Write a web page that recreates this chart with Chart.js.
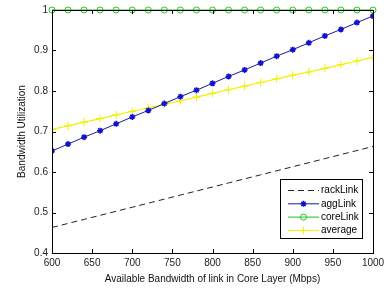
<!DOCTYPE html>
<html>
<head>
<meta charset="utf-8">
<script src="https://cdn.jsdelivr.net/npm/chart.js@4/dist/chart.umd.min.js"></script>
<style>
  html, body { margin: 0; padding: 0; background: #fff; }
  #wrap { width: 389px; height: 288px; }
</style>
</head>
<body>
<div id="wrap"><canvas id="bwChart"></canvas></div>
<script>
// values
const bandwidth = [600, 620, 640, 660, 680, 700, 720, 740, 760, 780, 800,
                   820, 840, 860, 880, 900, 920, 940, 960, 980, 1000];
const rackLink = [0.463, 0.473, 0.483, 0.493, 0.503, 0.513, 0.523, 0.533, 0.543, 0.553, 0.563,
                  0.573, 0.583, 0.593, 0.603, 0.613, 0.623, 0.633, 0.643, 0.653, 0.663];
const aggLink = [0.652, 0.669, 0.686, 0.702, 0.719, 0.736, 0.752, 0.769, 0.786, 0.802, 0.819,
                 0.836, 0.852, 0.869, 0.886, 0.902, 0.919, 0.936, 0.952, 0.969, 0.985];
const coreLink = [1, 1, 1, 1, 1, 1, 1, 1, 1, 1, 1,
                  1, 1, 1, 1, 1, 1, 1, 1, 1, 1];
const average = [0.705, 0.714, 0.723, 0.732, 0.741, 0.750, 0.758, 0.767, 0.776, 0.785, 0.794,
                 0.803, 0.812, 0.821, 0.830, 0.839, 0.847, 0.856, 0.865, 0.874, 0.883];
const xTicks = [600, 650, 700, 750, 800, 850, 900, 950, 1000];
const yTicks = [0.4, 0.5, 0.6, 0.7, 0.8, 0.9, 1];

const pts = (ys) => ys.map((y, i) => ({ x: bandwidth[i], y: y }));
const FONT = 'Arial, "Liberation Sans", sans-serif';

// matlab style box with inward ticks
const boxPlugin = {
  id: 'box',
  afterDatasetsDraw(chart) {
    const { ctx, chartArea: a, scales } = chart;
    ctx.save();
    ctx.strokeStyle = '#000';
    ctx.lineWidth = 1;
    ctx.strokeRect(Math.round(a.left) + 0.5, Math.round(a.top) + 0.5,
                   Math.round(a.right - a.left), Math.round(a.bottom - a.top));
    ctx.beginPath();
    xTicks.forEach(v => {
      const x = Math.round(scales.x.getPixelForValue(v)) + 0.5;
      ctx.moveTo(x, a.bottom); ctx.lineTo(x, a.bottom - 4);
      ctx.moveTo(x, a.top); ctx.lineTo(x, a.top + 4);
    });
    yTicks.forEach(v => {
      const y = Math.round(scales.y.getPixelForValue(v)) + 0.5;
      ctx.moveTo(a.left, y); ctx.lineTo(a.left + 4, y);
      ctx.moveTo(a.right, y); ctx.lineTo(a.right - 4, y);
    });
    ctx.stroke();
    ctx.restore();
  }
};

// legend inside the axes, lower right
const legendPlugin = {
  id: 'matLegend',
  afterDraw(chart) {
    const { ctx } = chart;
    const bx = 280, by = 179, bw = 82, bh = 59;
    ctx.save();
    ctx.fillStyle = '#fff';
    ctx.fillRect(bx, by, bw, bh);
    ctx.strokeStyle = '#000';
    ctx.lineWidth = 1;
    ctx.strokeRect(bx + 0.5, by + 0.5, bw, bh);
    ctx.font = '10px ' + FONT;
    ctx.textBaseline = 'middle';
    chart.data.datasets.forEach((ds, i) => {
      const y = by + 11.5 + i * 13.3;
      ctx.strokeStyle = ds.borderColor;
      ctx.lineWidth = 1;
      ctx.setLineDash(ds.borderDash || []);
      ctx.beginPath();
      ctx.moveTo(288, y); ctx.lineTo(319, y);
      ctx.stroke();
      ctx.setLineDash([]);
      if (ds.pointRadius > 0) {
        ctx.strokeStyle = ds.pointBorderColor;
        ctx.fillStyle = ds.pointBackgroundColor;
        ctx.lineWidth = ds.pointBorderWidth;
        Chart.helpers.drawPoint(ctx, {
          pointStyle: ds.pointStyle,
          radius: ds.pointRadius,
          borderWidth: ds.pointBorderWidth
        }, 303.5, y);
      }
      ctx.fillStyle = '#000';
      ctx.fillText(ds.label, 321, y);
    });
    ctx.restore();
  }
};

new Chart(document.getElementById('bwChart'), {
  type: 'line',
  data: {
    datasets: [
      {
        label: 'rackLink', data: pts(rackLink),
        borderColor: '#222', borderWidth: 1, borderDash: [6, 4],
        pointRadius: 0, pointStyle: 'line'
      },
      {
        label: 'aggLink', data: pts(aggLink),
        borderColor: '#1a1a9a', borderWidth: 1,
        pointStyle: 'star', pointRadius: 3,
        pointBorderColor: '#1010d0', pointBackgroundColor: '#1010d0', pointBorderWidth: 1.5
      },
      {
        label: 'coreLink', data: pts(coreLink),
        borderColor: '#20c020', borderWidth: 1, clip: false,
        pointStyle: 'circle', pointRadius: 3,
        pointBorderColor: '#30c030', pointBackgroundColor: 'rgba(0,0,0,0)', pointBorderWidth: 1
      },
      {
        label: 'average', data: pts(average),
        borderColor: '#f0f000', borderWidth: 1.2,
        pointStyle: 'cross', pointRadius: 4,
        pointBorderColor: '#f0f000', pointBackgroundColor: '#f0f000', pointBorderWidth: 1
      }
    ]
  },
  options: {
    responsive: true,
    maintainAspectRatio: false,
    animation: false,
    layout: { padding: { top: 2, right: 16, left: 0, bottom: 0 } },
    plugins: { legend: { display: false }, tooltip: { enabled: false } },
    elements: { line: { tension: 0 } },
    scales: {
      x: {
        type: 'linear', min: 600, max: 1000,
        afterBuildTicks: s => { s.ticks = xTicks.map(v => ({ value: v })); },
        afterFit: s => { s.height = 35; },
        grid: { display: false, drawTicks: false },
        border: { display: false },
        ticks: { color: '#222', font: { size: 10, family: FONT }, padding: 4, maxRotation: 0,
                 callback: v => String(v) },
        title: { display: true, text: 'Available Bandwidth of link in Core Layer (Mbps)',
                 color: '#111', font: { size: 10, family: FONT }, padding: { top: 0, bottom: 3 } }
      },
      y: {
        type: 'linear', min: 0.4, max: 1,
        afterBuildTicks: s => { s.ticks = yTicks.map(v => ({ value: v })); },
        afterFit: s => { s.width = 52; },
        grid: { display: false, drawTicks: false },
        border: { display: false },
        ticks: { color: '#222', font: { size: 10, family: FONT }, padding: 4,
                 callback: v => String(+v.toFixed(1)) },
        title: { display: true, text: 'Bandwidth Utilization',
                 color: '#111', font: { size: 10, family: FONT }, padding: { top: 16, bottom: 0 } }
      }
    }
  },
  plugins: [boxPlugin, legendPlugin]
});
</script>
</body>
</html>
